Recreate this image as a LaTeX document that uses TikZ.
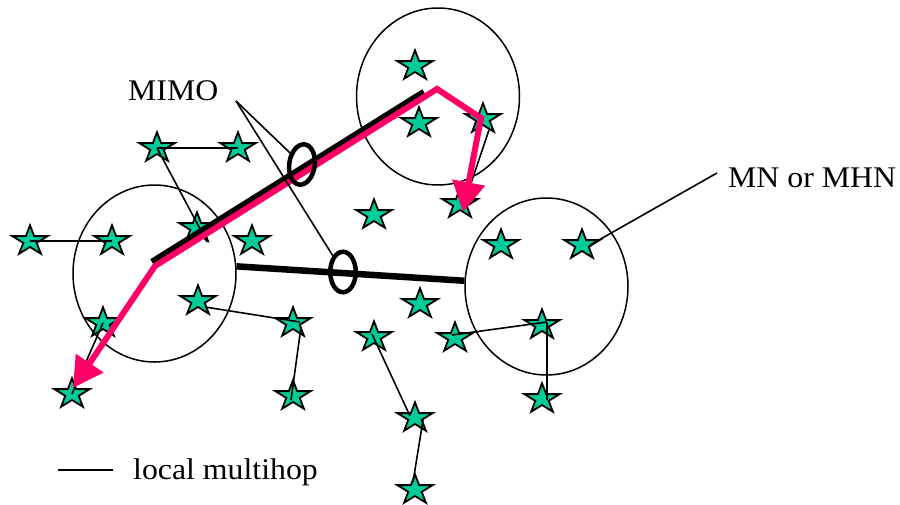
\documentclass[tikz,border=0pt]{standalone}
\usepackage{fontspec}
\setmainfont{Liberation Serif}
\usetikzlibrary{shapes.geometric,arrows.meta}
\definecolor{nodegreen}{RGB}{0,204,153}
\definecolor{routepink}{RGB}{255,0,102}

\begin{document}
\begin{tikzpicture}[x=1pt,y=-1pt,
  mnode/.style={star,star points=5,star point ratio=2.618,minimum size=37pt,
    yscale=0.85,inner sep=0pt,draw=black,line width=1.8pt,fill=nodegreen},
  cluster/.style={ellipse,draw,line width=1.5pt,minimum width=163pt,
    minimum height=177pt,inner sep=0pt},
  hop/.style={line width=1.6pt},
  mimolink/.style={line width=6.5pt},
  route/.style={draw=routepink,line width=6pt,
    {Triangle[length=30pt,width=32pt]}-{Triangle[length=30pt,width=32pt]}},
  ring/.style={ellipse,draw,line width=4.5pt,minimum width=25.5pt,
    minimum height=40.5pt,inner sep=0pt},
  lbl/.style={font=\fontsize{30}{36}\selectfont,inner sep=0pt,xscale=1.06}]
\useasboundingbox (0,0) rectangle (900,504);

% clusters
\node[cluster] (c1) at (154.5,273.5) {};
\node[cluster] (c2) at (438,96.5) {};
\node[cluster] (c3) at (546.5,286.5) {};

% mobile nodes
\node[mnode] (s1)  at (157,148) {};
\node[mnode] (s2)  at (238,148) {};
\node[mnode] (s3)  at (30,241) {};
\node[mnode] (s4)  at (112,241) {};
\node[mnode] (s5)  at (197,228) {};
\node[mnode] (s6)  at (252,241) {};
\node[mnode] (s7)  at (198,301) {};
\node[mnode] (s8)  at (103,323) {};
\node[mnode] (s9)  at (293,323) {};
\node[mnode] (s10) at (72,394) {};
\node[mnode] (s11) at (293,396) {};
\node[mnode] (s12) at (415,66) {};
\node[mnode] (s13) at (419,123) {};
\node[mnode] (s14) at (483,119) {};
\node[mnode] (s15) at (374,215) {};
\node[mnode] (s16) at (460,204) {};
\node[mnode] (s17) at (501,245) {};
\node[mnode] (s18) at (582,245) {};
\node[mnode] (s19) at (420,304) {};
\node[mnode] (s20) at (374,337) {};
\node[mnode] (s21) at (455,338) {};
\node[mnode] (s22) at (542,325) {};
\node[mnode] (s23) at (542,399) {};
\node[mnode] (s24) at (415,418) {};
\node[mnode] (s25) at (415,490) {};

% local multihop links
\draw[hop] (s1.center) -- (s2.center);
\draw[hop] (s1.center) -- ([shift={(10,14)}]s5.center);
\draw[hop] (s3.center) -- (s4.center);
\draw[hop] (s8.center) -- (s10.center);
\draw[hop] ([shift={(7,6)}]s7.center) -- ([shift={(7,-1)}]s9.center);
\draw[hop] ([shift={(8,4)}]s9.center) -- ([shift={(-2,4)}]s11.center);
\draw[hop] ([shift={(6,11)}]s14.center) -- ([shift={(4,0)}]s16.center);
\draw[hop] ([shift={(-2,-3)}]s20.center) -- ([shift={(-5,-2)}]s24.center);
\draw[hop] ([shift={(8,2)}]s24.center) -- ([shift={(-2,-8)}]s25.center);
\draw[hop] ([shift={(-3,-3)}]s21.center) -- ([shift={(5,-3)}]s22.center);
\draw[hop] ([shift={(5,-2)}]s22.center) -- ([shift={(5,1)}]s23.center);

% MIMO links between cluster heads
\coordinate (b1) at (152,262);
\coordinate (b2) at (424,92);
\draw[mimolink] (b1) -- (b2);
\draw[mimolink] (c1.5) -- (c3.176);

% routed path
\coordinate (t1) at (73,388);
\coordinate (p0) at (155,266);
\coordinate (p1) at (437,89);
\coordinate (p2) at (481,118);
\coordinate (t2) at (463,212);
\draw[route] (t1) -- (p0) -- (p1) -- (p2) -- (t2);

% MIMO markers
\node[ring,rotate=-8] (e1) at (302,164.5) {};
\node[ring] (e2) at (343,272) {};

% labels
\node[lbl,anchor=base west] (mimo) at (128,100) {MIMO};
\coordinate (m0) at (236,101);
\draw[hop] (m0) -- (e1);
\draw[hop] (m0) -- (e2);

\node[lbl,anchor=base west] (mn) at (728,187) {MN or MHN};
\coordinate (mnp) at (717,173);
\draw[hop] (mnp) -- ([shift={(8,0)}]s18.center);

% legend
\coordinate (l1) at (58,470);
\coordinate (l2) at (113,470);
\draw[hop] (l1) -- (l2);
\node[lbl,anchor=base west] (leg) at (133,479) {local multihop};
\end{tikzpicture}
\end{document}
